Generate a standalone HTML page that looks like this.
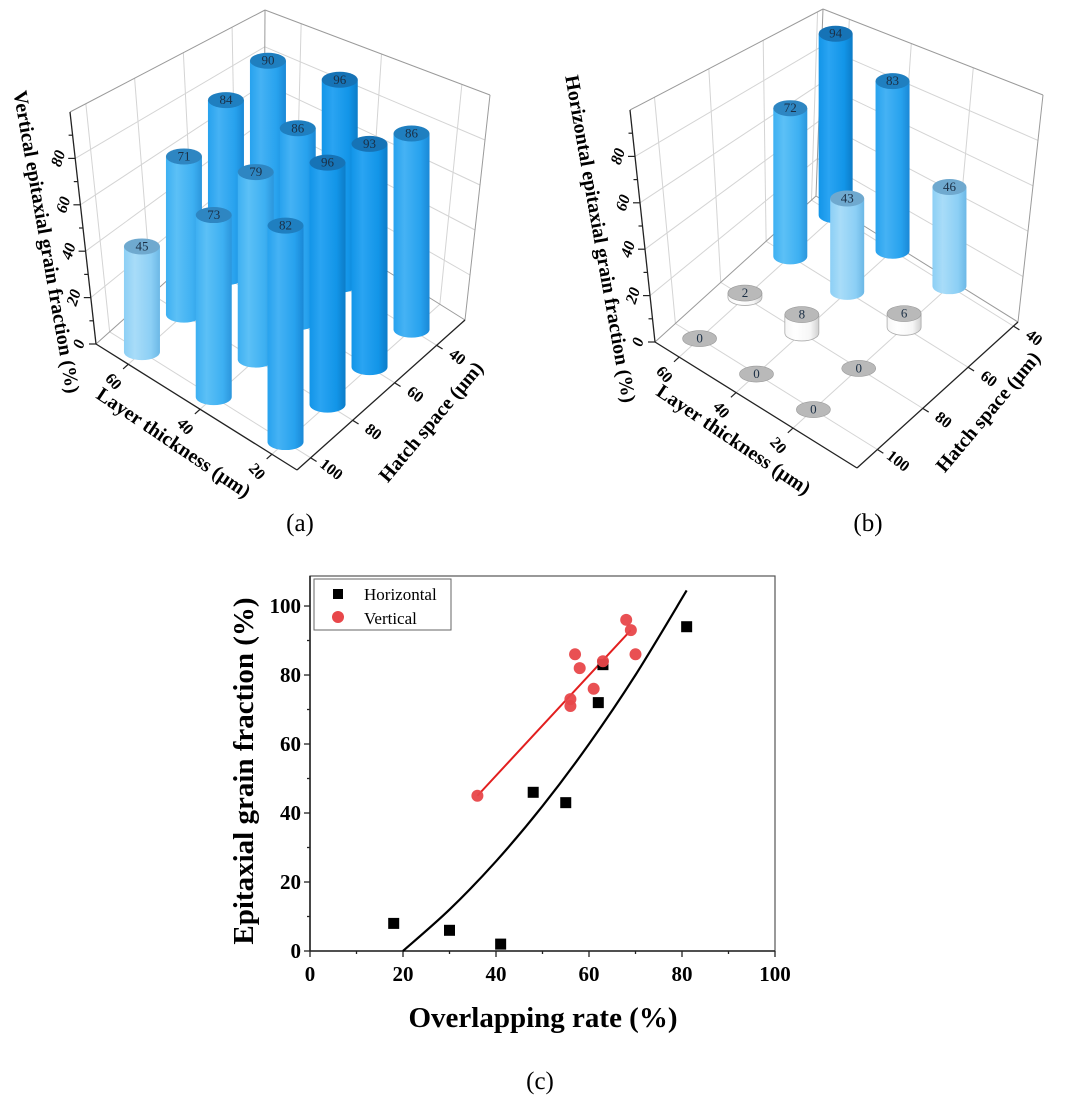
<!DOCTYPE html>
<html><head><meta charset="utf-8">
<style>
html,body{margin:0;padding:0;background:#fff;}
svg{display:block;font-family:"Liberation Serif",serif;}
</style></head>
<body>
<svg id="fig" width="1080" height="1098" viewBox="0 0 1080 1098" xmlns="http://www.w3.org/2000/svg">
<defs id="defs"></defs>
</svg>
<script>
// ---- data ----
const layers=[60,40,20];
const hatches=[100,80,60,40];
const vertVals=[[45,71,84,90],[73,79,86,96],[82,96,93,86]];
const horizVals=[[0,2,72,94],[0,8,43,83],[0,0,6,46]];
const zTicks=[0,20,40,60,80];
const layerTicks=[60,40,20];
const hatchTicks=[100,80,60,40];

const xTicks=[0,20,40,60,80,100];
const yTicks=[0,20,40,60,80,100];
const horizX=[18,30,41,48,55,62,63,81];
const horizY=[8,6,2,46,43,72,83,94];
const vertX=[36,56,56,57,58,61,63,68,69,70];
const vertY=[45,73,71,86,82,76,84,96,93,86];
const fitHX=[20,30,40,50,60,70,81];
const fitHY=[0,12,26,42,60,80,104.5];
const fitVX=[36,69];
const fitVY=[45,93];

const NS="http://www.w3.org/2000/svg";
const svg=document.getElementById('fig');
const defs=document.getElementById('defs');
function mk(tag,attrs,parent){const e=document.createElementNS(NS,tag);for(const k in attrs)e.setAttribute(k,attrs[k]);(parent||svg).appendChild(e);return e;}

const palettes=[
 {id:'gLight',l:'#a8dcf8',m:'#8ccff5',r:'#6cb8e6',top:'#6fa9cf'},
 {id:'gMid',l:'#5cc0f6',m:'#3db0f2',r:'#2b96dc',top:'#2e86c2'},
 {id:'gHigh',l:'#45b2f4',m:'#27a2ee',r:'#1a88d6',top:'#1f7fc0'},
 {id:'gTop',l:'#2aa4f2',m:'#1295e8',r:'#0c7cc8',top:'#1673b6'},
 {id:'gWhite',l:'#ffffff',m:'#f6f6f6',r:'#d0d0d0',top:'#b9b9b9'}
];
palettes.forEach(p=>{
 const g=mk('linearGradient',{id:p.id,x1:'0',y1:'0',x2:'1',y2:'0'},defs);
 mk('stop',{offset:'0','stop-color':p.m},g);
 mk('stop',{offset:'0.3','stop-color':p.l},g);
 mk('stop',{offset:'0.75','stop-color':p.m},g);
 mk('stop',{offset:'1','stop-color':p.r},g);
});
function paletteFor(v){ if(v<15) return palettes[4]; if(v<50) return palettes[0]; if(v<80) return palettes[1]; if(v<92) return palettes[2]; return palettes[3]; }

function make3D(G, vals, titleText, tag){
 const g=mk('g',{});
 
 
 const Ft=[G.Lt[0]+G.Rt[0]-G.Bt[0], G.Lt[1]+G.Rt[1]-G.Bt[1]];
 const fl=(u,v)=>[G.L[0]+u*(G.F[0]-G.L[0])+v*(G.R[0]-G.F[0]), G.L[1]+u*(G.F[1]-G.L[1])+v*(G.R[1]-G.F[1])];
 const tp=(u,v)=>[G.Lt[0]+u*(Ft[0]-G.Lt[0])+v*(G.Rt[0]-Ft[0]), G.Lt[1]+u*(Ft[1]-G.Lt[1])+v*(G.Rt[1]-Ft[1])];
 const P=(u,v,w)=>{const a=fl(u,v),b=tp(u,v);return [a[0]+(b[0]-a[0])*w,a[1]+(b[1]-a[1])*w];};
 const uOf=l=>(G.layerDom[0]-l)/(G.layerDom[0]-G.layerDom[1]);
 const vOf=h=>(G.hatchDom[0]-h)/(G.hatchDom[0]-G.hatchDom[1]);
 const wOf=z=>z/G.zMax;
 const line=(a,b,st,sw,name)=>{const e=mk('line',{x1:a[0],y1:a[1],x2:b[0],y2:b[1],stroke:st,'stroke-width':sw},g);
  
  return e;};
 const grid='#d4d4d4';
 layerTicks.forEach(l=>{const u=uOf(l);line(P(u,0,0),P(u,1,0),grid,1,'floor-gridline');line(P(u,1,0),P(u,1,1),grid,1,'wall-gridline');});
 hatchTicks.forEach(h=>{const v=vOf(h);line(P(0,v,0),P(1,v,0),grid,1,'floor-gridline');line(P(0,v,0),P(0,v,1),grid,1,'wall-gridline');});
 zTicks.slice(1).forEach(z=>{const w=wOf(z);line(P(0,0,w),P(0,1,w),grid,1,'wall-gridline');line(P(0,1,w),P(1,1,w),grid,1,'wall-gridline');});
 const box='#9a9a9a';
 line(P(0,0,1),P(0,1,1),box,1,'box-edge');line(P(0,1,1),P(1,1,1),box,1,'box-edge');
 line(P(1,1,0),P(1,1,1),box,1,'box-edge');line(P(0,1,0),P(0,1,1),box,1,'box-edge');
 line(P(0,0,0),P(0,1,0),box,1,'box-edge');line(P(0,1,0),P(1,1,0),box,1,'box-edge');
 line(P(0,0,0),P(0,0,1),'#222',1.3,'z-axis-line');
 line(P(0,0,0),P(1,0,0),'#222',1.3,'layer-axis-line');
 line(P(1,0,0),P(1,1,0),'#222',1.3,'hatch-axis-line');
 for(let z=0;z<=90;z+=10){const p=P(0,0,wOf(z));line(p,[p[0]-(z%20?4:7),p[1]],'#222',1.2,'z-tick');}
 zTicks.forEach(z=>{const p=P(0,0,wOf(z));
  const t=mk('text',{x:p[0]-17,y:p[1]+5,'font-size':16,'font-weight':'bold','font-style':'italic','text-anchor':'middle',transform:`rotate(-72 ${p[0]-17} ${p[1]})`},g);
  t.textContent=z;
  
  });
 const dv=[G.R[0]-G.F[0],G.R[1]-G.F[1]],nv=Math.hypot(dv[0],dv[1]);
 const du=[G.F[0]-G.L[0],G.F[1]-G.L[1]],nu=Math.hypot(du[0],du[1]);
 layerTicks.forEach(l=>{const p=P(uOf(l),0,0);const q=[p[0]-dv[0]/nv*7,p[1]-dv[1]/nv*7];line(p,q,'#222',1.2,'layer-tick');
  const lp=[p[0]-dv[0]/nv*20,p[1]-dv[1]/nv*20+4];
  const t=mk('text',{x:lp[0],y:lp[1]+5,'font-size':16,'font-weight':'bold','text-anchor':'middle',transform:`rotate(48 ${lp[0]} ${lp[1]})`},g);
  t.textContent=l;
  
  });
 hatchTicks.forEach(h=>{const p=P(1,vOf(h),0);const q=[p[0]+du[0]/nu*7,p[1]+du[1]/nu*7];line(p,q,'#222',1.2,'hatch-tick');
  const lp=[p[0]+du[0]/nu*22+2,p[1]+du[1]/nu*22];
  const t=mk('text',{x:lp[0],y:lp[1]+5,'font-size':16,'font-weight':'bold','text-anchor':'middle',transform:`rotate(38 ${lp[0]} ${lp[1]})`},g);
  t.textContent=h;
  
  });
 const bars=[];
 layers.forEach((l,i)=>hatches.forEach((h,j)=>bars.push({l,h,v:vals[i][j],u:uOf(l),vv:vOf(h)})));
 bars.forEach(b=>{b.f=fl(b.u,b.vv);});
 bars.sort((a,b)=>a.f[1]-b.f[1]);
 const rx=G.rx,ry=G.ry;
 bars.forEach(b=>{
  const f=b.f,t=[f[0],P(b.u,b.vv,wOf(b.v))[1]];
  const pal=paletteFor(b.v);
  const bg=mk('g',{},g);
  
  
  if(b.v>0){
   mk('path',{d:`M${f[0]-rx},${f[1]} L${t[0]-rx},${t[1]} L${t[0]+rx},${t[1]} L${f[0]+rx},${f[1]} A${rx} ${ry} 0 0 1 ${f[0]-rx} ${f[1]} Z`,fill:`url(#${pal.id})`,stroke:pal.id==='gWhite'?'#aaa':'none','stroke-width':0.8},bg);
  }
  mk('ellipse',{cx:t[0],cy:t[1],rx:rx,ry:ry,fill:pal.top,stroke:pal.id==='gWhite'?'#999':'none','stroke-width':0.6},bg);
  const tx=mk('text',{x:t[0],y:t[1]+4,'font-size':13,fill:'#1b2f45','text-anchor':'middle'},bg);
  tx.textContent=b.v;
  
  
 });
 const T=(txt,x,y,rot,name)=>{const e=mk('text',{x:x,y:y,'font-size':20,'font-weight':'bold','text-anchor':'middle',transform:`rotate(${rot} ${x} ${y})`},g);e.textContent=txt;
  
  };
 T(titleText,G.zt[0],G.zt[1],80,'z-axis-title');
 T('Layer thickness (μm)',G.lt[0],G.lt[1],34,'layer-axis-title');
 T('Hatch space (μm)',G.ht[0],G.ht[1],-50,'hatch-axis-title');
 const pl=mk('text',{x:G.pl[0],y:G.pl[1],'font-size':25,'text-anchor':'middle'},g);
 pl.textContent='('+tag+')';
 
 
}

const GA={L:[96,344],F:[297,470],R:[465,320],Lt:[70,112],Rt:[490,95],Bt:[265,10],layerDom:[69,13],hatchDom:[106.5,26.5],zMax:100,rx:18,ry:8,
 zt:[40,243],lt:[170,448],ht:[436,426],pl:[300,531]};
const GB={L:[655,342],F:[857,468],R:[1018,322],Lt:[630,110],Rt:[1043,95],Bt:[823,9],layerDom:[68.5,-2.5],hatchDom:[109,38],zMax:100,rx:17,ry:8,
 zt:[594,240],lt:[730,445],ht:[993,416],pl:[868,531]};
make3D(GA,vertVals,'Vertical epitaxial grain fraction (%)','a');
make3D(GB,horizVals,'Horizontal epitaxial grain fraction (%)','b');

// ---- chart c ----
const X0=310,X1=775,Y0=951,Y1=576,YMAX=108.7;
const sx=v=>X0+v/100*(X1-X0);
const sy=v=>Y0-v/YMAX*(Y0-Y1);
const gc=mk('g',{});


const frame=mk('rect',{x:X0,y:Y1,width:X1-X0,height:Y0-Y1,fill:'none',stroke:'#555','stroke-width':1.2},gc);


const axX=mk('line',{x1:X0,y1:Y0,x2:X1,y2:Y0,stroke:'#222','stroke-width':1.6},gc);


const axY=mk('line',{x1:X0,y1:Y0,x2:X0,y2:Y1,stroke:'#222','stroke-width':1.6},gc);


for(let v=0;v<=100;v+=10){const tk=mk('line',{x1:sx(v),y1:Y0,x2:sx(v),y2:Y0+(v%20?3:6),stroke:'#222','stroke-width':1.3},gc);
 
 }
for(let v=0;v<=100;v+=10){const tk=mk('line',{x1:X0,y1:sy(v),x2:X0-(v%20?3:6),y2:sy(v),stroke:'#222','stroke-width':1.3},gc);
 
 }
xTicks.forEach(v=>{const t=mk('text',{x:sx(v),y:Y0+30,'font-size':21,'font-weight':'bold','text-anchor':'middle'},gc);t.textContent=v;
 
 });
yTicks.forEach(v=>{const t=mk('text',{x:X0-9,y:sy(v)+7,'font-size':21,'font-weight':'bold','text-anchor':'end'},gc);t.textContent=v;
 
 });
function smooth(xs,ys){let d=`M${sx(xs[0])},${sy(ys[0])}`;
 for(let i=0;i<xs.length-1;i++){const p0=[sx(xs[Math.max(i-1,0)]),sy(ys[Math.max(i-1,0)])],p1=[sx(xs[i]),sy(ys[i])],p2=[sx(xs[i+1]),sy(ys[i+1])],p3=[sx(xs[Math.min(i+2,xs.length-1)]),sy(ys[Math.min(i+2,xs.length-1)])];
  d+=` C${p1[0]+(p2[0]-p0[0])/6},${p1[1]+(p2[1]-p0[1])/6} ${p2[0]-(p3[0]-p1[0])/6},${p2[1]-(p3[1]-p1[1])/6} ${p2[0]},${p2[1]}`;}
 return d;}
const fh=mk('path',{d:smooth(fitHX,fitHY),fill:'none',stroke:'#000','stroke-width':2.2},gc);


const fv=mk('path',{d:smooth(fitVX,fitVY),fill:'none',stroke:'#e21f1f','stroke-width':2},gc);


horizX.forEach((x,i)=>{const r=mk('rect',{x:sx(x)-5.5,y:sy(horizY[i])-5.5,width:11,height:11,fill:'#000'},gc);
 
 });
vertX.forEach((x,i)=>{const c=mk('circle',{cx:sx(x),cy:sy(vertY[i]),r:6,fill:'#e8474a',opacity:0.95},gc);
 
 });
const lg=mk('g',{},gc);


mk('rect',{x:314,y:579,width:137,height:51,fill:'#fff',stroke:'#666','stroke-width':1},lg);
const l1=mk('rect',{x:333,y:589,width:10,height:10,fill:'#000'},lg);


const l2=mk('circle',{cx:338,cy:617,r:6,fill:'#e8474a'},lg);


const lt1=mk('text',{x:364,y:600,'font-size':17},lg);lt1.textContent='Horizontal';


const lt2=mk('text',{x:364,y:624,'font-size':17},lg);lt2.textContent='Vertical';


const xt=mk('text',{x:543,y:1027,'font-size':29,'font-weight':'bold','text-anchor':'middle'},gc);xt.textContent='Overlapping rate (%)';


const yt=mk('text',{x:253,y:771,'font-size':29,'font-weight':'bold','text-anchor':'middle',transform:'rotate(-90 253 771)'},gc);yt.textContent='Epitaxial grain fraction (%)';


const pc=mk('text',{x:540,y:1089,'font-size':25,'text-anchor':'middle'},gc);pc.textContent='(c)';


</script>
</body></html>
